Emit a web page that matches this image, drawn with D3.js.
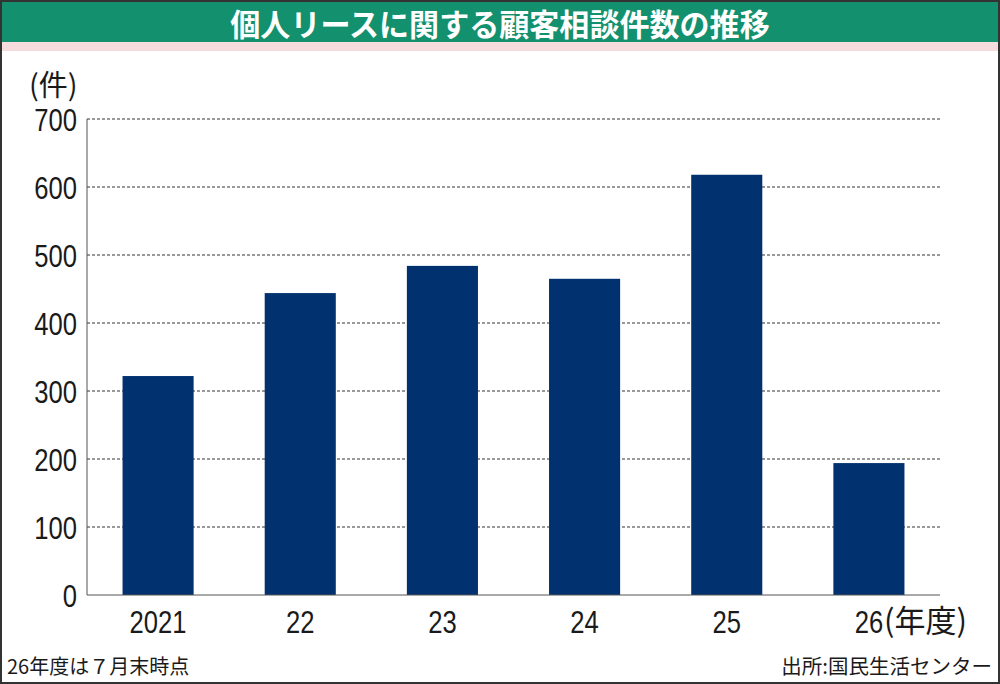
<!DOCTYPE html>
<html>
<head>
<meta charset="utf-8">
<script src="https://cdn.jsdelivr.net/npm/d3@7"></script>
<style>
  body { margin: 0; background: #fff; }
  svg { display: block; }
</style>
</head>
<body>
<div id="chart"></div>
<script>
// chart values
var years = ["2021", "22", "23", "24", "25", "26"];
var counts = [322, 444, 484, 465, 618, 194];
var yTicks = [0, 100, 200, 300, 400, 500, 600, 700];

var titleText = "個人リースに関する顧客相談件数の推移";
var unitText = "(件)";
var yearUnit = "(年度)";
var noteText = "26年度は７月末時点";
var sourceText = "出所:国民生活センター";

var svgWidth = 1000;
var svgHeight = 684;

var margin = { top: 119, right: 60, bottom: 89, left: 87 };
var chartWidth = svgWidth - margin.left - margin.right;
var chartHeight = svgHeight - margin.top - margin.bottom;

// the picture uses condensed digits, so squeeze them horizontally
var numFont = "'Liberation Sans', Arial, sans-serif";
var jpFont = "'Noto Sans CJK JP', sans-serif";
var squeeze = 0.8;

var svg = d3.select("#chart")
  .append("svg")
  .attr("width", svgWidth)
  .attr("height", svgHeight);

// title band
svg.append("rect")
  .attr("x", 0).attr("y", 0)
  .attr("width", svgWidth).attr("height", 42)
  .attr("fill", "#13906d");

svg.append("rect")
  .attr("x", 0).attr("y", 42)
  .attr("width", svgWidth).attr("height", 9)
  .attr("fill", "#f6dcdc");

svg.append("text")
  .attr("transform", `translate(${svgWidth / 2}, 36) scale(0.97, 1)`)
  .attr("text-anchor", "middle")
  .attr("font-family", jpFont)
  .attr("font-weight", "bold")
  .attr("font-size", "31px")
  .attr("fill", "#fff")
  .text(titleText);

var chartGroup = svg.append("g")
  .attr("transform", `translate(${margin.left}, ${margin.top})`);

var xScale = d3.scaleBand()
  .domain(years)
  .range([0, chartWidth])
  .paddingInner(0.5)
  .paddingOuter(0.25);

var yScale = d3.scaleLinear()
  .domain([0, 700])
  .range([chartHeight, 0]);

// dashed gridlines
chartGroup.selectAll(".grid")
  .data(yTicks.filter(d => d > 0))
  .join("line")
  .attr("class", "grid")
  .attr("x1", 0)
  .attr("x2", chartWidth)
  .attr("y1", d => yScale(d))
  .attr("y2", d => yScale(d))
  .attr("stroke", "#333")
  .attr("stroke-width", 1)
  .attr("stroke-dasharray", "3,2");

// bars
chartGroup.selectAll(".bar")
  .data(counts)
  .join("rect")
  .attr("class", "bar")
  .attr("x", (d, i) => xScale(years[i]))
  .attr("y", d => yScale(d))
  .attr("width", xScale.bandwidth())
  .attr("height", d => chartHeight - yScale(d))
  .attr("fill", "#02316f");

// y axis
var leftAxis = d3.axisLeft(yScale)
  .tickValues(yTicks)
  .tickSize(0)
  .tickPadding(10);

var yAxis = chartGroup.append("g")
  .call(leftAxis);
yAxis.select(".domain")
  .attr("stroke", "#555")
  .attr("d", `M0,0V${chartHeight}`);
yAxis.selectAll("text")
  .attr("font-family", numFont)
  .attr("font-size", "32px")
  .attr("fill", "#1a1a1a")
  .attr("x", -10 / squeeze)
  .attr("dy", "0.36em")
  .attr("transform", `scale(${squeeze}, 1)`);

// x axis
var bottomAxis = d3.axisBottom(xScale).tickSize(0);
var xAxis = chartGroup.append("g")
  .attr("transform", `translate(0, ${chartHeight})`)
  .call(bottomAxis);
xAxis.select(".domain")
  .attr("stroke", "#555")
  .attr("d", `M0,0H${chartWidth}`);
xAxis.selectAll("text")
  .attr("font-family", numFont)
  .attr("font-size", "32px")
  .attr("fill", "#1a1a1a")
  .attr("y", 38)
  .attr("dy", 0)
  .attr("transform", `scale(${squeeze}, 1)`);

// "(年度)" after the last year
xAxis.selectAll(".tick")
  .filter(d => d === years[years.length - 1])
  .append("text")
  .attr("x", 15)
  .attr("y", 37)
  .attr("text-anchor", "start")
  .attr("font-family", jpFont)
  .attr("font-size", "31px")
  .attr("fill", "#1a1a1a")
  .text(yearUnit);

// unit label
svg.append("text")
  .attr("x", 29)
  .attr("y", 96)
  .attr("font-family", jpFont)
  .attr("font-size", "29px")
  .attr("fill", "#1a1a1a")
  .text(unitText);

// footnote and source
svg.append("text")
  .attr("x", 7)
  .attr("y", 674)
  .attr("font-family", jpFont)
  .attr("font-size", "20px")
  .attr("fill", "#1a1a1a")
  .text(noteText);

svg.append("text")
  .attr("x", 992)
  .attr("y", 674)
  .attr("text-anchor", "end")
  .attr("font-family", jpFont)
  .attr("font-size", "20.5px")
  .attr("fill", "#1a1a1a")
  .text(sourceText);

// outer frame
svg.append("rect")
  .attr("x", 1).attr("y", 1)
  .attr("width", svgWidth - 2).attr("height", svgHeight - 2)
  .attr("fill", "none")
  .attr("stroke", "#333")
  .attr("stroke-width", 2);
</script>
</body>
</html>
